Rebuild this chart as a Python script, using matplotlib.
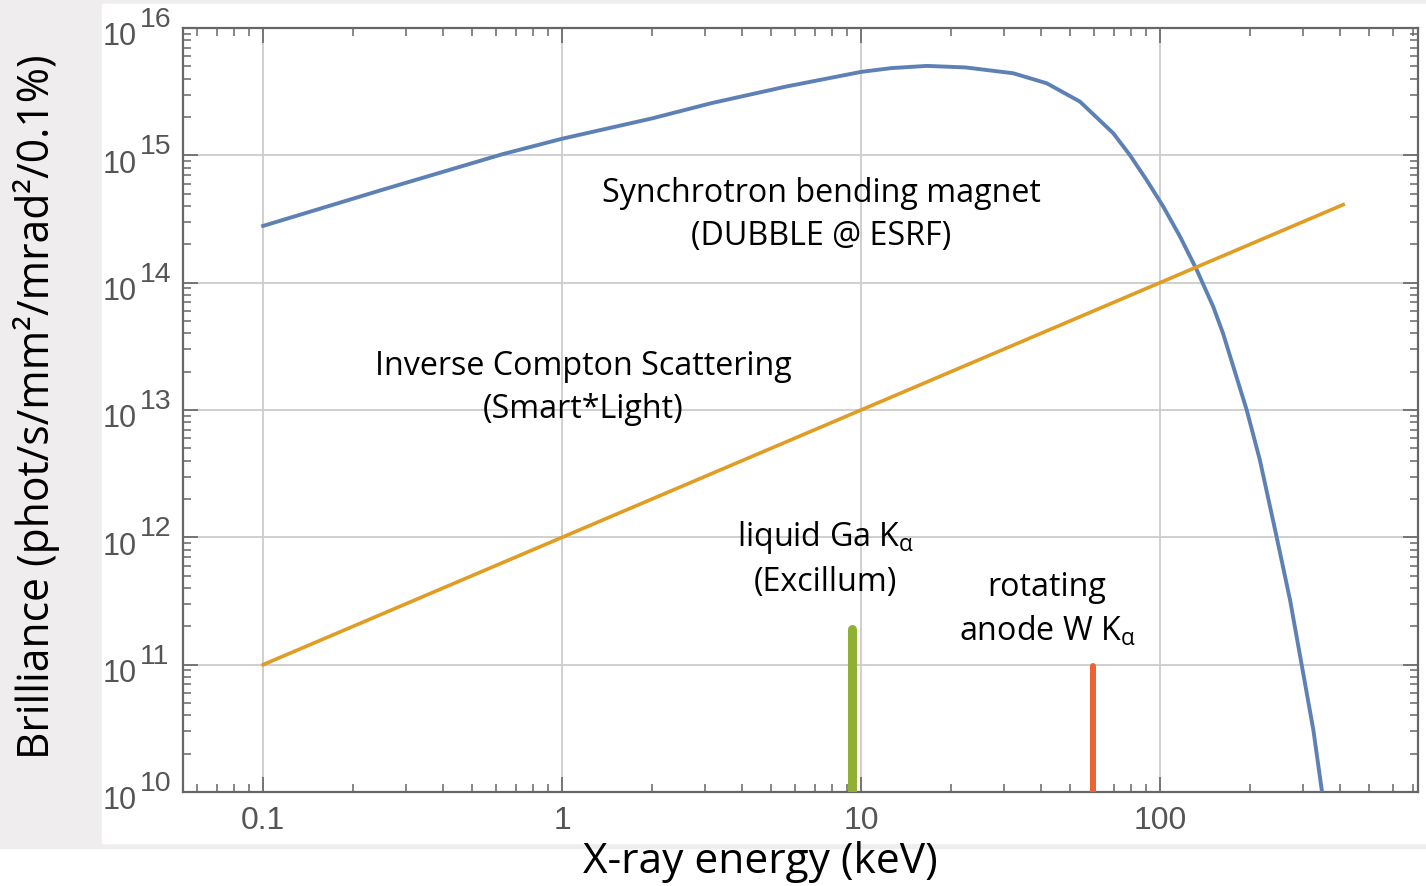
# Brillancia de fuentes de rayos X (recreación)
import numpy as np
import matplotlib.pyplot as plt
from matplotlib.patches import Rectangle
from matplotlib.ticker import LogLocator, NullFormatter

# Datos (keV, phot/s/mm2/mrad2/0.1%)
bm_energy = [0.1, 0.251, 0.631, 1.0, 2.0, 3.16, 5.62, 10, 12.6, 16.6, 22.4, 32.3,
             41.8, 54.0, 69.8, 79.4, 90.2, 102.6, 116.7, 132.7, 150.7, 162.6,
             195.0, 215.8, 245.5, 272.3, 297.9, 325.8, 347.5]
bm_brill = [2.79e14, 5.37e14, 1.02e15, 1.35e15, 1.95e15, 2.57e15, 3.47e15, 4.52e15,
            4.84e15, 5.04e15, 4.90e15, 4.41e15, 3.68e15, 2.64e15, 1.49e15, 1.0e15,
            6.40e14, 3.95e14, 2.30e14, 1.26e14, 6.47e13, 3.98e13, 1.0e13, 4.05e12,
            1.01e12, 3.22e11, 9.93e10, 3.07e10, 1.04e10]

ics_energy = [0.1, 1, 10, 100, 410]
ics_brill = [1e11, 1e12, 1e13, 1e14, 4.1e14]

ga_energy = 9.3
ga_peak = 1.9e11
w_energy = 59.5
w_peak = 0.97e11

x_ticks = [0.1, 1, 10, 100]
x_labels = ['0.1', '1', '10', '100']
y_exps = [10, 11, 12, 13, 14, 15, 16]

# Colores por defecto de Mathematica
c_blue = '#5E81B5'
c_orange = '#E19C24'
c_green = '#8FB032'
c_red = '#EB6235'
c_tick = '#555555'

plt.rcParams['font.family'] = ['Open Sans', 'DejaVu Sans']
plt.rcParams['mathtext.fontset'] = 'custom'
plt.rcParams['mathtext.rm'] = 'Open Sans'
plt.rcParams['mathtext.it'] = 'Open Sans'

W, H = 1426, 886
fig = plt.figure(figsize=(W / 100, H / 100), dpi=100)
fig.add_artist(Rectangle((0, 1 - 848 / H), 1, 848 / H, transform=fig.transFigure,
                         color='#efeded', zorder=-2))
fig.add_artist(Rectangle((102 / W, 1 - 843 / H), 1, (843 - 4) / H,
                         transform=fig.transFigure, color='white', zorder=-1))

ax = fig.add_axes([183 / W, 1 - 792 / H, (1418 - 183) / W, (792 - 28) / H])
ax.set_facecolor('white')
ax.set_xscale('log')
ax.set_yscale('log')
ax.set_xlim(10 ** -1.268, 10 ** 2.863)
ax.set_ylim(1e10, 1e16)

# Curvas
ax.plot(bm_energy, bm_brill, color=c_blue, lw=2.8, zorder=3)
ax.plot(ics_energy, ics_brill, color=c_orange, lw=2.6, zorder=3)
ax.plot([ga_energy, ga_energy], [1e9, ga_peak], color=c_green, lw=6.5,
        solid_capstyle='round', zorder=3)
ax.plot([w_energy, w_energy], [1e9, w_peak], color=c_red, lw=4.3,
        solid_capstyle='round', zorder=3)

# Ejes y rejilla
ax.set_xticks(x_ticks)
ax.set_xticklabels(x_labels, fontfamily='Liberation Sans')
ax.set_yticks([10.0 ** e for e in y_exps])
ax.set_yticklabels([])
ax.xaxis.set_minor_locator(LogLocator(base=10, subs=range(2, 10), numticks=30))
ax.yaxis.set_minor_locator(LogLocator(base=10, subs=range(2, 10), numticks=30))
ax.xaxis.set_minor_formatter(NullFormatter())
ax.yaxis.set_minor_formatter(NullFormatter())
ax.tick_params(which='both', direction='in', top=True, right=True,
               color='#666666', labelcolor=c_tick)
ax.tick_params(axis='x', which='major', labelsize=23, pad=10)
ax.tick_params(which='major', length=11, width=1.2)
ax.tick_params(which='minor', length=6, width=1.1)
for s in ax.spines.values():
    s.set_color('#666666')
    s.set_linewidth(1.6)
ax.grid(which='major', color='#cccccc', lw=1.3, zorder=1)
ax.set_axisbelow(True)

# Etiquetas del eje y: 10 con exponente grande
for e in y_exps:
    ax.annotate('10', xy=(0, 10.0 ** e), xycoords=('axes fraction', 'data'),
                xytext=(-33.5, -12.5), textcoords='offset points', ha='right',
                va='baseline', fontsize=22, family='Liberation Sans', color=c_tick,
                annotation_clip=False)
    ax.annotate(str(e), xy=(0, 10.0 ** e), xycoords=('axes fraction', 'data'),
                xytext=(-31, 0.7), textcoords='offset points', ha='left',
                va='baseline', fontsize=20.5, family='Liberation Sans', color=c_tick,
                annotation_clip=False)

# Anotaciones
kw = dict(ha='center', va='center', fontsize=23.2, color='black', linespacing=1.4)
ax.text(7.35, 3.4e14, 'Synchrotron bending magnet\n(DUBBLE @ ESRF)', **kw)
ax.text(1.175, 1.49e13, 'Inverse Compton Scattering\n(Smart*Light)', **kw)
ax.text(7.59, 6.76e11, 'liquid Ga K$_{\\alpha}$\n(Excillum)', **kw)
ax.text(41.9, 2.69e11, 'rotating\nanode W K$_{\\alpha}$', **kw)

fig.text(37 / W, 1 - 407 / H, 'Brilliance (phot/s/mm²/mrad²/0.1%)',
         rotation=90, ha='center', va='center', fontsize=30.7)
fig.text(760 / W, 1 - 862 / H, 'X-ray energy (keV)', ha='center', va='center',
         fontsize=30.6)

fig.savefig('out.png', dpi=100)
